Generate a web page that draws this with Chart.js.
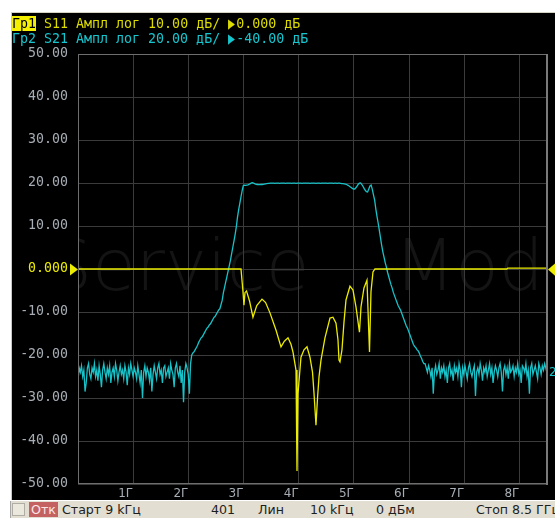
<!DOCTYPE html>
<html>
<head>
<meta charset="utf-8">
<script src="https://cdn.jsdelivr.net/npm/chart.js@4.4.1/dist/chart.umd.min.js"></script>
<style>
  body { margin: 0; background: #fff; width: 555px; height: 518px; overflow: hidden; position: relative; }
  #screen { position: absolute; left: 11px; top: 12px; width: 544px; height: 488px; background: #000;
            border-top: 1px solid #d6d2c4; border-left: 1px solid #c8c8c8; box-sizing: border-box; }
  #wm { position: absolute; left: 78px; top: 54px; width: 469px; height: 430px; overflow: hidden; z-index: 1; }
  #wm span { position: absolute; left: -31px; top: 176px; font: 200 71px 'DejaVu Sans', sans-serif; color: #141414;
             white-space: nowrap; word-spacing: 62px; line-height: 1; }
  canvas { position: absolute; left: 0; top: 0; z-index: 2; }
  #hdr { position: absolute; left: 12px; top: 16px; z-index: 3; font: 13.3px 'DejaVu Sans Mono', monospace;
         line-height: 15px; white-space: pre; }
  .r1 { color: #dcdc00; }
  .r2 { color: #16c6cf; }
  .tag { background: #f4f000; color: #000; }
  .tri { display: inline-block; width: 8px; font-size: 17px; line-height: 12px; vertical-align: -1px;
         transform: scaleX(0.68); transform-origin: 0 50%; }
  #status { position: absolute; left: 10px; top: 501px; width: 545px; height: 17px; background: #e2ded2; z-index: 3;
            border-left: 1px solid #a8a8a8; box-sizing: border-box; font: 12.6px 'DejaVu Sans', sans-serif; color: #1e1e1e;
            overflow: hidden; }
  #status span { position: absolute; top: 1px; line-height: 15px; white-space: nowrap; }
  #chk { position: absolute; left: 1px; top: 2px; width: 13px; height: 13px; background: #ebe8de; border: 1px solid #b0ada4; box-sizing: border-box; }
  #otk { left: 18px !important; top: 1px !important; background: #c46262; color: #fbe6e6; padding: 0 2px; }
</style>
</head>
<body>
<div id="screen"></div>
<div id="wm"><span>Service Mode</span></div>
<canvas id="vna" width="555" height="518"></canvas>
<div id="hdr"><div class="r1"><span class="tag">Гр1</span> S11 Ампл лог 10.00 дБ/ <span class="tri">▶</span>0.000 дБ</div><div class="r2">Гр2 S21 Ампл лог 20.00 дБ/ <span class="tri">▶</span>-40.00 дБ</div></div>
<div id="status">
  <div id="chk"></div>
  <span id="otk">Отк</span>
  <span style="left:51px">Старт 9 kГц</span>
  <span style="left:200px">401</span>
  <span style="left:247px">Лин</span>
  <span style="left:299px">10 kГц</span>
  <span style="left:365px">0 дБм</span>
  <span style="left:465px">Стоп 8.5 ГГц</span>
</div>
<script>
// sweep: 9 kHz .. 8.5 GHz, 401 points (frequency in GHz)
const fStart = 0.000009;
const fStop = 8.5;
const points = 401;

const xTickValues = [1, 2, 3, 4, 5, 6, 7, 8];
const yTickStep = 10;

// S11, dB (scale 10 dB/div, ref 0 dB at centre)
const s11Freq = [0.000009, 2.954, 2.990, 3.008, 3.026, 3.054, 3.110, 3.171, 3.240, 3.335, 3.400, 3.479, 3.588, 3.679,
  3.740, 3.806, 3.860, 3.896, 3.951, 3.969, 3.987, 4.041, 4.096, 4.150, 4.204, 4.250, 4.277, 4.313, 4.341, 4.368,
  4.404, 4.476, 4.567, 4.621, 4.676, 4.712, 4.730, 4.748, 4.784, 4.821, 4.857, 4.929, 4.984, 5.038, 5.101, 5.129,
  5.183, 5.237, 5.283, 5.310, 5.346, 5.382, 7.77, 7.79, 8.5];
const s11Db = [0, 0, -5.3, -8.4, -5.5, -5.1, -7.5, -11.2, -8.5, -7.0, -7.8, -10.2, -14.2, -18.1,
  -16.8, -16.0, -17.5, -19.3, -23.5, -47.0, -29.0, -20.5, -18.8, -18.1, -20.5, -24, -28.8, -36.3, -30, -25.1,
  -21.2, -16, -11.4, -11.2, -12.6, -16.5, -21.2, -21.6, -18.8, -12.3, -7.2, -4.0, -4.9, -8.8, -14.7, -8.8,
  -4.4, -2.6, -19.3, -5.3, -0.7, 0, 0, 0.2, 0.2];

// S21, dB (scale 20 dB/div, ref -40 dB at centre), one value per sweep point
const s21Low = [-92, -86, -88, -85, -90, -87, -97, -93, -86, -84,
  -89, -91, -86, -88, -84, -90, -87, -92, -85, -89,
  -95, -87, -84, -88, -91, -86, -89, -85, -93, -88,
  -86, -90, -84, -87, -92, -88, -85, -89, -87, -91,
  -85, -88, -94, -86, -89, -84, -87, -90, -86, -88,
  -91, -85, -89, -93, -87, -100, -88, -85, -90, -86,
  -88, -92, -86, -97, -89, -85, -88, -91, -86, -84,
  -89, -87, -93, -86, -85, -90, -88, -86, -91, -84,
  -87, -89, -95, -86, -84, -88, -90, -85, -93, -87,
  -102, -88, -84, -86, -89, -98, -84];
const s21Rise = [-80, -79, -78.5, -77.5, -76.5, -75.5, -74, -73, -72, -71.5,
  -70.5, -69.5, -68.5, -67.5, -67, -66, -65.5, -64.5, -63.5, -62.5,
  -62, -61, -60, -59, -58.5, -56.5, -54.5, -51, -48.5, -46,
  -43.5, -41, -38.5, -36, -33, -30, -27, -24, -20.5, -16,
  -12.5, -9.5, -6.5, -3.5, -1.2];
const s21Pass = [-1.0, -1.1, -1.0, -0.9, -0.6, -0.3, 0.1, 0.2, -0.1, -0.4,
  -0.6, -0.7, -0.8, -0.8, -0.7, -0.7, -0.6, -0.5, -0.4, -0.3,
  -0.2, -0.2, -0.1, -0.1,
  -0.1, -0.1, -0.2, -0.1, -0.1, -0.1, -0.2, -0.1, -0.1, -0.1,
  -0.1, -0.2, -0.1, -0.1, -0.1, -0.1, -0.2, -0.1, -0.1, -0.1,
  -0.2, -0.1, -0.1, -0.1, -0.1, -0.2, -0.1, -0.1, -0.1, -0.1,
  -0.1, -0.1, -0.2, -0.1, -0.1, -0.1, -0.1, -0.2, -0.1, -0.1,
  -0.1, -0.2, -0.1, -0.1, -0.1, -0.1, -0.1, -0.2, -0.1, -0.1,
  -0.1, -0.1, -0.2, -0.1, -0.1, -0.2, -0.1, -0.1, -0.2, -0.3,
  -0.3, -0.4,
  -0.5, -0.7, -1.0, -1.3, -1.7, -2.1, -2.5, -2.8, -2.8, -2.2,
  -1.4, -0.6, -0.1, 0.0, -0.6, -1.5, -2.5, -3.4, -4.0, -4.2,
  -2.8, -1.4, -1.0];
const s21Fall = [-3, -5.5, -8, -12, -15.5, -18.6, -22, -25.5, -29, -32,
  -34.5, -37, -39, -41.5, -43.5, -45.5, -47.4, -49, -51, -52.5,
  -54, -55.5, -57, -58, -59, -60.5, -62, -63.5, -65, -66.5,
  -67.5, -69, -70.5, -72, -73.5, -75, -76, -76.5, -77.5, -78,
  -79, -80.5, -81.5, -83, -84];
const s21High = [-84, -86, -88, -85, -87, -90, -86, -98, -88, -85,
  -89, -87, -84, -91, -86, -88, -85, -90, -87, -93,
  -86, -84, -89, -87, -92, -85, -88, -86, -90, -84,
  -87, -95, -86, -89, -85, -88, -91, -86, -84, -88,
  -90, -87, -85, -99, -88, -86, -89, -84, -87, -92,
  -86, -88, -85, -90, -87, -84, -89, -86, -93, -88,
  -85, -87, -90, -86, -84, -88, -97, -87, -85, -89,
  -86, -91, -84, -88, -87, -85, -90, -86, -88, -84,
  -89, -87, -93, -85, -86, -88, -84, -90, -87, -98,
  -86, -84, -89, -87, -85, -88, -91, -84, -86, -89,
  -85, -87, -84, -86, -88.5];

const s21Db = [...s21Low, ...s21Rise, ...s21Pass, ...s21Fall, ...s21High];
const sweepFreq = s21Db.map((_, i) => fStart + i * (fStop - fStart) / (points - 1));

const yellow = '#ecec00';
const cyan = '#17c2c8';
const gridColor = '#3b3b3b';
const labelColor = '#a6adb4';

const traceMarks = {
  id: 'traceMarks',
  afterDatasetsDraw(chart) {
    const { ctx, chartArea: a, scales } = chart;
    ctx.save();
    ctx.strokeStyle = '#6e6e6e';
    ctx.lineWidth = 1;
    ctx.strokeRect(a.left + 0.5, a.top + 0.5, a.width - 1, a.height - 1);
    ctx.fillStyle = '#7a7a7a';
    ctx.fillRect(a.right - 1, a.top, 2, a.height + 1);

    // reference markers for trace 1
    const y0 = Math.round(scales.y.getPixelForValue(0)) + 0.5;
    ctx.fillStyle = yellow;
    ctx.beginPath();
    ctx.moveTo(a.left - 8, y0 - 6); ctx.lineTo(a.left, y0); ctx.lineTo(a.left - 8, y0 + 6);
    ctx.closePath(); ctx.fill();
    ctx.beginPath();
    ctx.moveTo(a.right + 9, y0 - 7); ctx.lineTo(a.right + 1, y0); ctx.lineTo(a.right + 9, y0 + 7);
    ctx.closePath(); ctx.fill();

    // trace 2 end label
    const pts = chart.getDatasetMeta(1).data;
    const last = pts[pts.length - 1];
    ctx.fillStyle = cyan;
    ctx.font = '12px "DejaVu Sans"';
    ctx.textBaseline = 'middle';
    ctx.fillText('2', a.right + 2, last.y);
    ctx.restore();
  }
};

new Chart(document.getElementById('vna').getContext('2d'), {
  type: 'line',
  data: {
    datasets: [
      {
        label: 'S11',
        data: s11Freq.map((f, i) => ({ x: f, y: s11Db[i] })),
        borderColor: yellow,
        borderWidth: 1.3,
        pointRadius: 0,
        yAxisID: 'y'
      },
      {
        label: 'S21',
        data: sweepFreq.map((f, i) => ({ x: f, y: s21Db[i] })),
        borderColor: cyan,
        borderWidth: 1.3,
        pointRadius: 0,
        yAxisID: 'y2'
      }
    ]
  },
  options: {
    responsive: false,
    animation: false,
    layout: { padding: { left: 11, top: 54, right: 8, bottom: 17 } },
    plugins: { legend: { display: false }, tooltip: { enabled: false } },
    scales: {
      x: {
        type: 'linear',
        min: fStart,
        max: fStop,
        afterBuildTicks: (s) => { s.ticks = xTickValues.map(v => ({ value: v })); },
        afterFit: (s) => { s.height = 17; },
        grid: { color: gridColor, drawTicks: false },
        border: { display: false },
        ticks: {
          align: 'end',
          padding: 3,
          color: labelColor,
          font: { family: 'DejaVu Sans', size: 12 },
          callback: (v) => v + 'Г'
        }
      },
      y: {
        min: -50,
        max: 50,
        afterFit: (s) => { s.width = 67; },
        grid: { color: gridColor, drawTicks: false },
        border: { display: false },
        ticks: {
          stepSize: yTickStep,
          padding: 10,
          color: (c) => c.tick.value === 0 ? yellow : labelColor,
          font: { family: 'DejaVu Sans Mono', size: 13.25 },
          callback: (v) => v === 0 ? '0.000' : v.toFixed(2)
        }
      },
      y2: {
        display: false,
        min: -140,
        max: 60
      }
    }
  },
  plugins: [traceMarks]
});
</script>
</body>
</html>
